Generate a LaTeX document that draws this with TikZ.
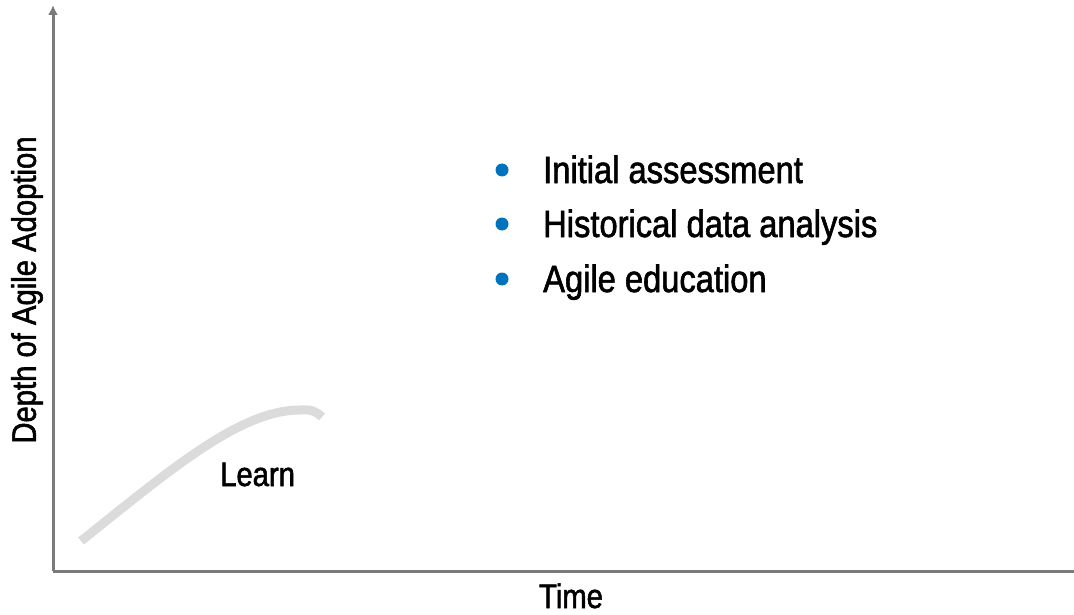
\documentclass[tikz,border=0pt]{standalone}
\usepackage{fontspec}
\setmainfont[FakeStretch=0.86,FakeBold=1.6]{Liberation Sans}
\usetikzlibrary{arrows.meta}
\definecolor{bulletblue}{RGB}{0,114,190}
\begin{document}
\begin{tikzpicture}[x=1pt,y=-1pt,
  axis/.style={draw=black!52,line width=3pt},
  curve/.style={draw=black!14,line width=9pt},
  lbl/.style={font=\fontsize{34}{40}\selectfont,inner sep=0pt},
  item/.style={font=\fontsize{38}{44}\selectfont,inner sep=0pt,anchor=base west},
  dot/.style={circle,fill=bulletblue,inner sep=0pt,minimum size=13pt}]
  \useasboundingbox (0,0) rectangle (1074,615);
  % axes
  \coordinate (origin) at (53,571);
  \coordinate (ytop) at (53,5);
  \coordinate (xend) at (1074,571);
  \draw[axis,-{Latex[length=10pt,width=10pt]}] (origin) -- (ytop);
  \draw[axis] (origin) -- (xend);
  \node[lbl,rotate=90] (ylabel) at (27,290) {Depth of Agile Adoption};
  \node[lbl,anchor=base] (xlabel) at (571,608) {Time};
  % learning curve
  \coordinate (c0) at (81,541);
  \coordinate (c1) at (300,410);
  \coordinate (c2) at (322,417);
  \draw[curve] (c0) .. controls (170,470) and (240,410) .. (c1) .. controls (310,409) and (316,411) .. (c2);
  \node[lbl,anchor=base west] (learn) at (220,486) {Learn};
  % activities
  \node[dot] (d1) at (502,170) {};
  \node[dot] (d2) at (502,224) {};
  \node[dot] (d3) at (502,279) {};
  \node[item] (t1) at (543,183) {Initial assessment};
  \node[item] (t2) at (543,237) {Historical data analysis};
  \node[item] (t3) at (543,292) {Agile education};
\end{tikzpicture}
\end{document}
